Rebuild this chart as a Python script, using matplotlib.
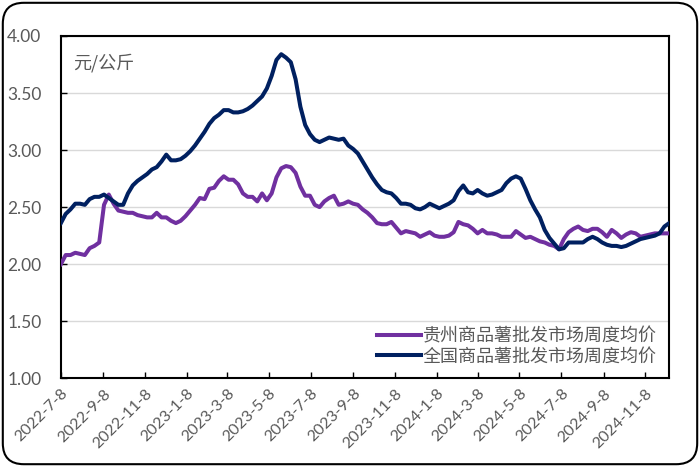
import pandas as pd
import matplotlib
matplotlib.use('Agg')
import matplotlib.pyplot as plt
from matplotlib.patches import FancyBboxPatch

# 周度均价（元/公斤），2022-7-8 起每周一个点
guizhou = [2.00, 2.08, 2.08, 2.10, 2.09, 2.08, 2.14, 2.16, 2.19, 2.52,
           2.61, 2.53, 2.47, 2.46, 2.45, 2.45, 2.43, 2.42, 2.41, 2.41,
           2.45, 2.41, 2.41, 2.38, 2.36, 2.38, 2.42, 2.47, 2.52, 2.58,
           2.57, 2.66, 2.67, 2.73, 2.77, 2.74, 2.74, 2.70, 2.62, 2.59,
           2.59, 2.55, 2.62, 2.56, 2.62, 2.76, 2.84, 2.86, 2.85, 2.80,
           2.68, 2.60, 2.60, 2.52, 2.50, 2.55, 2.58, 2.60, 2.52, 2.53,
           2.55, 2.53, 2.52, 2.48, 2.45, 2.41, 2.36, 2.35, 2.35, 2.37,
           2.32, 2.27, 2.29, 2.28, 2.27, 2.24, 2.26, 2.28, 2.25, 2.24,
           2.24, 2.25, 2.28, 2.37, 2.35, 2.34, 2.31, 2.27, 2.30, 2.27,
           2.27, 2.26, 2.24, 2.24, 2.24, 2.29, 2.26, 2.23, 2.24, 2.22,
           2.20, 2.19, 2.17, 2.16, 2.13, 2.22, 2.28, 2.31, 2.33, 2.30,
           2.29, 2.31, 2.31, 2.28, 2.24, 2.30, 2.27, 2.23, 2.26, 2.28,
           2.27, 2.24, 2.25, 2.26, 2.27, 2.27, 2.27, 2.27]

quanguo = [2.36, 2.44, 2.48, 2.53, 2.53, 2.52, 2.57, 2.59, 2.59, 2.61,
           2.58, 2.55, 2.52, 2.52, 2.62, 2.69, 2.73, 2.76, 2.79, 2.83,
           2.85, 2.90, 2.96, 2.91, 2.91, 2.92, 2.95, 2.99, 3.04, 3.10,
           3.16, 3.23, 3.28, 3.31, 3.35, 3.35, 3.33, 3.33, 3.34, 3.36,
           3.39, 3.43, 3.47, 3.54, 3.65, 3.79, 3.84, 3.81, 3.77, 3.62,
           3.38, 3.22, 3.14, 3.09, 3.07, 3.09, 3.11, 3.10, 3.09, 3.10,
           3.04, 3.01, 2.97, 2.90, 2.83, 2.76, 2.70, 2.65, 2.63, 2.62,
           2.58, 2.53, 2.53, 2.52, 2.49, 2.48, 2.50, 2.53, 2.51, 2.49,
           2.51, 2.53, 2.56, 2.64, 2.69, 2.63, 2.62, 2.65, 2.62, 2.60,
           2.61, 2.63, 2.65, 2.71, 2.75, 2.77, 2.75, 2.66, 2.56, 2.48,
           2.41, 2.30, 2.23, 2.18, 2.13, 2.14, 2.19, 2.19, 2.19, 2.19,
           2.22, 2.24, 2.22, 2.19, 2.17, 2.16, 2.16, 2.15, 2.16, 2.18,
           2.20, 2.22, 2.23, 2.24, 2.25, 2.27, 2.33, 2.36]

dates = pd.date_range('2022-07-08', periods=len(quanguo), freq='7D')

tick_dates = pd.to_datetime(['2022-07-08', '2022-09-08', '2022-11-08', '2023-01-08',
                             '2023-03-08', '2023-05-08', '2023-07-08', '2023-09-08',
                             '2023-11-08', '2024-01-08', '2024-03-08', '2024-05-08',
                             '2024-07-08', '2024-09-08', '2024-11-08'])
tick_labels = [f'{d.year}-{d.month}-{d.day}' for d in tick_dates]

label_gz = '贵州商品薯批发市场周度均价'
label_qg = '全国商品薯批发市场周度均价'

plt.rcParams['font.family'] = ['Lato', 'Noto Sans CJK SC', 'DejaVu Sans']
grey = '#595959'

fig = plt.figure(figsize=(7, 4.67), dpi=100)
ax = fig.add_axes([0.087, 0.19, 0.869, 0.733])

ax.plot(dates, guizhou, color='#7030A0', lw=2.9, label=label_gz, zorder=3)
ax.plot(dates, quanguo, color='#002060', lw=2.9, label=label_qg, zorder=4)

ax.set_xlim(dates[0], dates[-1])
ax.set_ylim(1.0, 4.0)
ax.set_yticks([1.0, 1.5, 2.0, 2.5, 3.0, 3.5, 4.0])
ax.set_yticklabels([f'{v:.2f}' for v in ax.get_yticks()])
ax.set_xticks(tick_dates)
ax.set_xticklabels(tick_labels, rotation=45, ha='right', rotation_mode='anchor')

ax.grid(axis='y', color='#d9d9d9', lw=1)
ax.set_axisbelow(True)
for s in ax.spines.values():
    s.set_color('black')
    s.set_linewidth(1.5)
ax.tick_params(axis='both', direction='in', colors='black', labelcolor=grey,
               length=4, width=1)
ax.tick_params(axis='y', labelsize=12.5, pad=14)
ax.tick_params(axis='x', labelsize=11.5, pad=6)

ax.text(0.02, 0.922, '元/公斤', transform=ax.transAxes, fontsize=13,
        color=grey, family=['Noto Sans CJK SC'], va='center')

leg = ax.legend(loc='lower right', frameon=False,
                handlelength=2.4, labelspacing=0.15, handletextpad=0.1,
                borderaxespad=0.3, prop={'family': 'Noto Sans CJK SC', 'size': 13})
for t in leg.get_texts():
    t.set_color(grey)

border = FancyBboxPatch((0.004, 0.006), 0.992, 0.988, transform=fig.transFigure,
                        boxstyle='round,pad=0,rounding_size=0.03',
                        mutation_aspect=700 / 467, fill=False, ec='black', lw=1.5)
fig.patches.append(border)

fig.savefig('out.png', dpi=100)
